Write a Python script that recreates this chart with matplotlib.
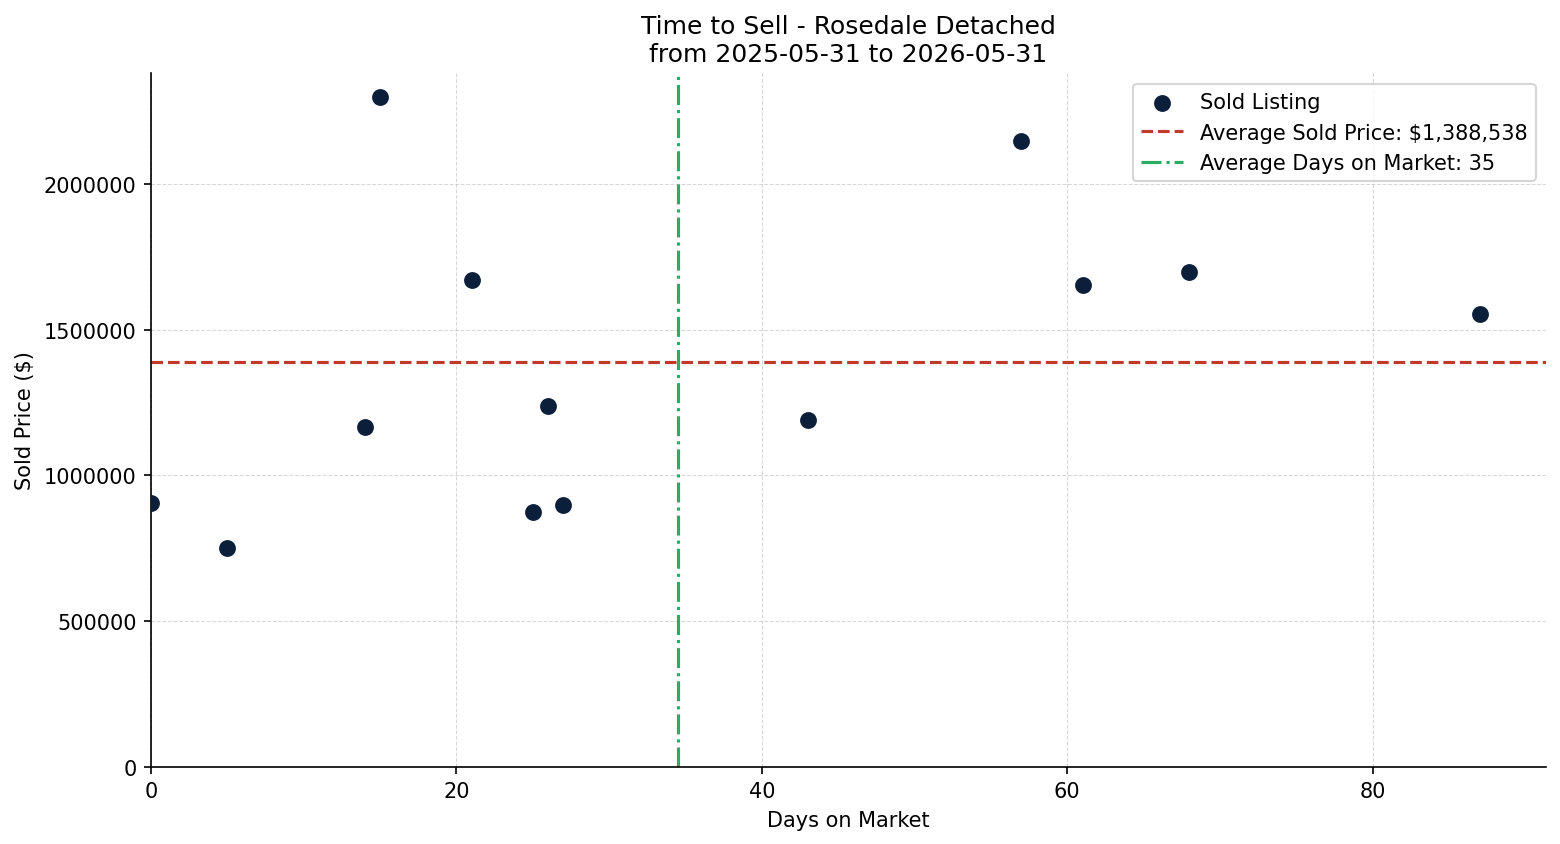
import matplotlib
matplotlib.use("Agg")
import matplotlib.pyplot as plt

# sold listings (days on market, sold price)
days_on_market = [0, 5, 14, 15, 21, 25, 26, 27, 43, 57, 61, 68, 87]
sold_price = [905000, 750000, 1165000, 2300000, 1670000, 875000, 1238000,
              899000, 1190000, 2150000, 1655000, 1700000, 1554000]

title = "Time to Sell - Rosedale Detached\nfrom 2025-05-31 to 2026-05-31"


def main():
    avg_price = sum(sold_price) / len(sold_price)
    avg_days = sum(days_on_market) / len(days_on_market)

    fig, ax = plt.subplots(figsize=(10.4, 5.633), dpi=150)
    fig.subplots_adjust(left=0.0968, right=0.991, top=0.912, bottom=0.0915)

    ax.scatter(days_on_market, sold_price, s=50, color="#0b1f3b",
               label="Sold Listing", zorder=3)
    ax.axhline(avg_price, color="#c0392b", linestyle="--", linewidth=1.5,
               label=f"Average Sold Price: ${avg_price:,.0f}")
    ax.axvline(avg_days, color="#27ae60", linestyle="-.", linewidth=1.5,
               label=f"Average Days on Market: {avg_days:.0f}")

    ax.set_xlim(0, max(days_on_market) * 1.05)
    ax.set_ylim(0, max(sold_price) * 1.035)
    ax.ticklabel_format(axis="y", style="plain")

    ax.set_title(title)
    ax.set_xlabel("Days on Market")
    ax.set_ylabel("Sold Price ($)")
    ax.grid(True, linestyle="--", linewidth=0.5, alpha=0.5)
    ax.spines["top"].set_visible(False)
    ax.spines["right"].set_visible(False)
    ax.legend(loc="upper right")

    fig.savefig("out.png", dpi=150)


if __name__ == "__main__":
    main()
